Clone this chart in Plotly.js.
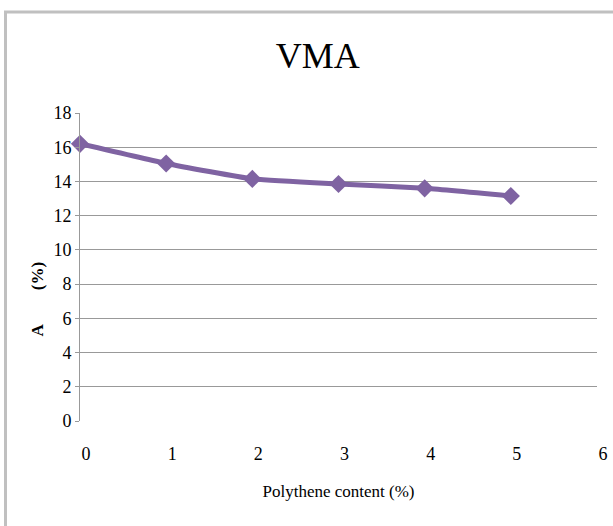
<!DOCTYPE html>
<html>
<head>
<meta charset="utf-8">
<script src="https://cdn.plot.ly/plotly-3.0.1.min.js"></script>
<style>html,body{margin:0;padding:0;background:#fff;}#chart{width:613px;height:526px;}</style>
</head>
<body>
<div id="chart"></div>
<script>
const polytheneContent = [0, 1, 2, 3, 4, 5];
const vmaValues = [16.2, 15.05, 14.15, 13.85, 13.6, 13.15];
const xTickVals = [0, 1, 2, 3, 4, 5, 6];
const yTickVals = [0, 2, 4, 6, 8, 10, 12, 14, 16, 18];

const serif = 'Liberation Serif';

const trace = {
  x: polytheneContent,
  y: vmaValues,
  type: 'scatter',
  mode: 'lines+markers',
  line: {color: '#7f63a2', width: 5, shape: 'spline', smoothing: 0.4},
  marker: {symbol: 'diamond', size: 14, color: '#7f63a2'},
  cliponaxis: false,
  hoverinfo: 'skip'
};

const layout = {
  width: 613,
  height: 526,
  margin: {l: 80, r: 16, t: 113, b: 105},
  paper_bgcolor: '#ffffff',
  plot_bgcolor: '#ffffff',
  showlegend: false,
  font: {family: serif, color: '#000'},
  title: {
    text: 'VMA',
    font: {family: serif, size: 36, color: '#000'},
    xref: 'paper', x: 0.46, xanchor: 'center',
    yref: 'container', y: 0.895, yanchor: 'middle'
  },
  xaxis: {
    range: [0, 6],
    tickvals: xTickVals,
    ticktext: xTickVals.map(String),
    showgrid: false,
    zeroline: false,
    showline: false,
    ticks: '',
    ticklabelshift: 6,
    ticklabelstandoff: 20,
    tickfont: {family: serif, size: 18, color: '#000'},
    title: {text: 'Polythene content (%)', font: {family: serif, size: 17, color: '#000'}, standoff: 22}
  },
  yaxis: {
    range: [0, 18],
    tickvals: yTickVals,
    ticktext: yTickVals.map(String),
    showgrid: true,
    gridcolor: '#999999',
    gridwidth: 1,
    zeroline: false,
    showline: true,
    linecolor: '#999999',
    linewidth: 1,
    ticks: 'outside',
    ticklen: 4,
    tickcolor: '#999999',
    tickfont: {family: serif, size: 18, color: '#000'},
    title: {text: ''}
  },
  annotations: [{
    text: '<b>A</b>        <b>(%)</b>',
    xref: 'paper', yref: 'paper',
    x: -0.083, y: 0.395,
    xanchor: 'center', yanchor: 'middle',
    textangle: -90,
    showarrow: false,
    font: {family: serif, size: 17, color: '#000'}
  }],
  shapes: [
    {type: 'line', xref: 'paper', yref: 'paper', x0: -0.1441, x1: -0.1441, y0: 1.328, y1: -0.345,
     line: {color: '#c0c0c0', width: 3}},
    {type: 'line', xref: 'paper', yref: 'paper', x0: -0.147, x1: 1.035, y0: 1.328, y1: 1.328,
     line: {color: '#c0c0c0', width: 3}}
  ]
};

Plotly.newPlot('chart', [trace], layout, {displayModeBar: false, staticPlot: true});
</script>
</body>
</html>
